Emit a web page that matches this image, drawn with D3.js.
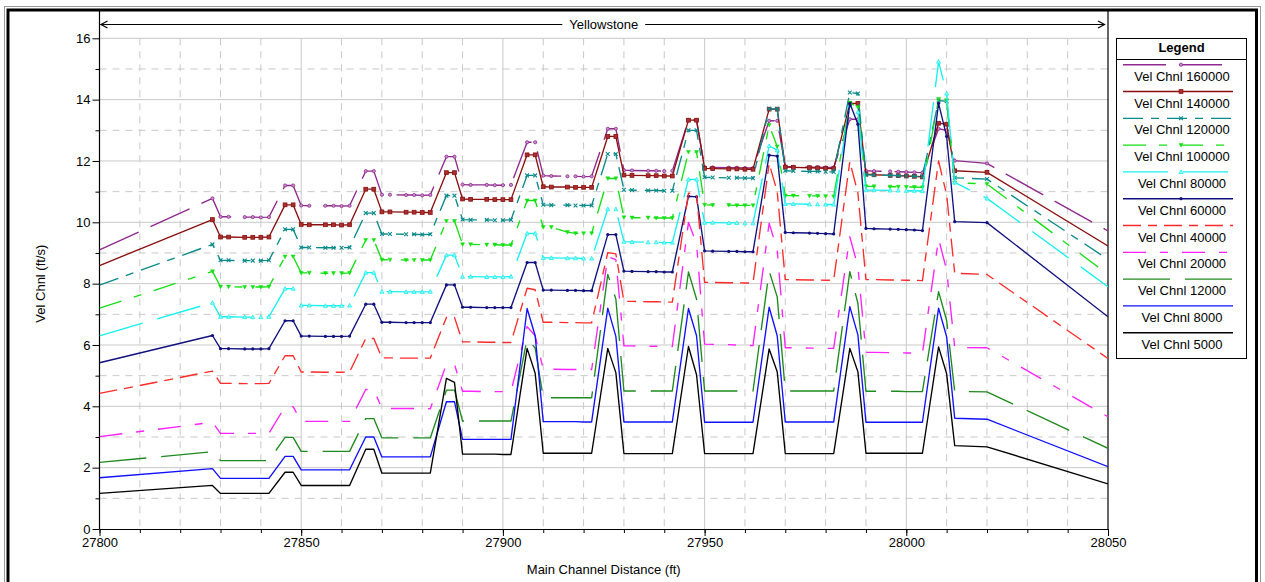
<!DOCTYPE html>
<html>
<head>
<meta charset="utf-8">
<script src="https://cdn.jsdelivr.net/npm/d3@7"></script>
<style>
html, body { margin: 0; padding: 0; background: #fff; }
svg { display: block; font-family: "Liberation Sans", Arial, sans-serif; }
</style>
</head>
<body>
<svg id="chart" width="1265" height="582"></svg>
<script>
// Cross-section stations along the main channel (ft)
const stations = [
  27800, 27828,
  27830, 27832, 27836, 27838, 27840, 27842, 27846, 27848,
  27850, 27852, 27856, 27858, 27860, 27862, 27866, 27868,
  27870, 27872, 27876, 27878, 27880, 27882, 27886, 27888,
  27890, 27892, 27896, 27898, 27900, 27902, 27906, 27908,
  27910, 27912, 27916, 27918, 27920, 27922, 27926, 27928,
  27930, 27932, 27936, 27938, 27940, 27942, 27946, 27948,
  27950, 27952, 27956, 27958, 27960, 27962, 27966, 27968,
  27970, 27972, 27976, 27978, 27980, 27982, 27986, 27988,
  27990, 27992, 27996, 27998, 28000, 28002, 28004, 28008, 28010,
  28012, 28020, 28050
];

// Channel velocity (ft/s) for each profile flow
const vel160000 = [
  9.10, 10.78,
  10.18, 10.18, 10.17, 10.17, 10.16, 10.17, 11.20, 11.20,
  10.55, 10.54, 10.54, 10.54, 10.53, 10.54, 11.67, 11.67,
  10.90, 10.90, 10.89, 10.89, 10.88, 10.89, 12.14, 12.14,
  11.23, 11.22, 11.22, 11.21, 11.21, 11.22, 12.61, 12.61,
  11.52, 11.51, 11.50, 11.50, 11.49, 11.50, 13.05, 13.05,
  11.70, 11.69, 11.68, 11.68, 11.67, 11.68, 13.33, 13.33,
  11.80, 11.79, 11.78, 11.78, 11.77, 11.77, 13.31, 13.31,
  11.82, 11.81, 11.80, 11.80, 11.79, 11.79, 13.36, 13.36,
  11.68, 11.67, 11.66, 11.65, 11.64, 11.63, 11.62, 13.05, 13.00,
  12.01, 11.92, 9.72
];
const vel140000 = [
  8.59, 10.09,
  9.52, 9.52, 9.51, 9.51, 9.51, 9.52, 10.57, 10.57,
  9.93, 9.92, 9.92, 9.92, 9.91, 9.92, 11.08, 11.08,
  10.34, 10.34, 10.33, 10.33, 10.32, 10.32, 11.62, 11.62,
  10.76, 10.75, 10.75, 10.74, 10.74, 10.74, 12.20, 12.20,
  11.16, 11.15, 11.15, 11.14, 11.14, 11.14, 12.80, 12.80,
  11.54, 11.53, 11.52, 11.52, 11.51, 11.51, 13.33, 13.33,
  11.76, 11.75, 11.74, 11.74, 11.73, 11.73, 13.69, 13.69,
  11.80, 11.79, 11.78, 11.77, 11.76, 11.75, 13.88, 13.88,
  11.57, 11.55, 11.53, 11.52, 11.51, 11.50, 11.48, 13.23, 13.20,
  11.68, 11.63, 9.23
];
const vel120000 = [
  7.95, 9.28,
  8.76, 8.76, 8.75, 8.75, 8.75, 8.76, 9.77, 9.77,
  9.18, 9.18, 9.17, 9.17, 9.17, 9.18, 10.30, 10.30,
  9.62, 9.62, 9.61, 9.61, 9.60, 9.61, 10.87, 10.87,
  10.09, 10.08, 10.08, 10.07, 10.07, 10.08, 11.53, 11.53,
  10.57, 10.56, 10.56, 10.55, 10.55, 10.55, 12.23, 12.23,
  11.06, 11.05, 11.04, 11.04, 11.03, 11.03, 13.00, 13.00,
  11.47, 11.46, 11.45, 11.45, 11.44, 11.44, 13.70, 13.70,
  11.68, 11.67, 11.66, 11.66, 11.65, 11.64, 14.23, 14.20,
  11.55, 11.54, 11.53, 11.52, 11.51, 11.50, 11.49, 13.97, 13.95,
  11.45, 11.41, 8.79
];
const vel100000 = [
  7.20, 8.40,
  7.90, 7.90, 7.89, 7.89, 7.89, 7.90, 8.88, 8.88,
  8.35, 8.35, 8.34, 8.34, 8.34, 8.35, 9.42, 9.42,
  8.78, 8.78, 8.77, 8.77, 8.77, 8.77, 10.04, 10.04,
  9.28, 9.28, 9.27, 9.27, 9.26, 9.26, 10.71, 10.71,
  9.84, 9.84, 9.68, 9.64, 9.64, 9.64, 11.43, 11.43,
  10.16, 10.15, 10.15, 10.14, 10.14, 10.14, 12.29, 12.29,
  10.57, 10.56, 10.56, 10.55, 10.55, 10.55, 13.17, 12.47,
  10.87, 10.87, 10.86, 10.86, 10.85, 10.84, 13.90, 13.75,
  11.17, 11.17, 11.16, 11.16, 11.15, 11.15, 11.14, 14.02, 13.98,
  11.29, 11.25, 8.30
];
const vel80000 = [
  6.30, 7.38,
  6.92, 6.92, 6.91, 6.91, 6.91, 6.92, 7.84, 7.84,
  7.29, 7.29, 7.28, 7.28, 7.28, 7.29, 8.36, 8.36,
  7.74, 7.74, 7.73, 7.73, 7.73, 7.74, 8.93, 8.93,
  8.23, 8.23, 8.22, 8.22, 8.22, 8.23, 9.64, 9.64,
  8.84, 8.84, 8.83, 8.83, 8.82, 8.82, 10.43, 10.43,
  9.37, 9.36, 9.35, 9.35, 9.34, 9.34, 11.40, 11.40,
  9.99, 9.99, 9.98, 9.98, 9.97, 9.97, 12.49, 12.35,
  10.60, 10.60, 10.59, 10.59, 10.58, 10.58, 13.80, 13.60,
  11.05, 11.05, 11.04, 11.04, 11.03, 11.03, 11.02, 15.24, 14.20,
  11.30, 10.78, 7.90
];
const vel60000 = [
  5.42, 6.31,
  5.88, 5.88, 5.87, 5.87, 5.87, 5.88, 6.79, 6.79,
  6.29, 6.29, 6.28, 6.28, 6.28, 6.29, 7.33, 7.33,
  6.74, 6.74, 6.73, 6.73, 6.73, 6.73, 7.96, 7.96,
  7.23, 7.23, 7.22, 7.22, 7.22, 7.22, 8.69, 8.69,
  7.79, 7.79, 7.78, 7.78, 7.77, 7.77, 9.60, 9.60,
  8.41, 8.40, 8.39, 8.39, 8.38, 8.38, 10.85, 10.83,
  9.07, 9.06, 9.05, 9.05, 9.04, 9.04, 12.19, 12.16,
  9.67, 9.66, 9.65, 9.64, 9.63, 9.62, 13.88, 13.20,
  9.80, 9.79, 9.78, 9.77, 9.76, 9.75, 9.73, 13.88, 12.80,
  10.02, 9.99, 6.92
];
const vel40000 = [
  4.42, 5.15,
  4.75, 4.75, 4.74, 4.74, 4.74, 4.75, 5.65, 5.65,
  5.12, 5.12, 5.11, 5.11, 5.11, 5.12, 6.21, 6.21,
  5.58, 5.58, 5.57, 5.57, 5.57, 5.57, 6.90, 6.90,
  6.10, 6.10, 6.09, 6.09, 6.08, 6.08, 7.85, 7.80,
  6.74, 6.74, 6.73, 6.73, 6.72, 6.72, 9.01, 8.97,
  7.42, 7.42, 7.41, 7.41, 7.40, 7.40, 10.95, 10.90,
  8.04, 8.04, 8.03, 8.03, 8.02, 8.02, 11.92, 11.00,
  8.13, 8.13, 8.12, 8.12, 8.11, 8.11, 11.98, 10.95,
  8.13, 8.13, 8.12, 8.12, 8.11, 8.11, 8.10, 12.00, 10.90,
  8.34, 8.30, 5.56
];
const vel20000 = [
  3.01, 3.48,
  3.12, 3.12, 3.12, 3.12, 3.12, 3.12, 3.99, 3.99,
  3.51, 3.51, 3.51, 3.51, 3.51, 3.51, 4.55, 4.55,
  3.93, 3.93, 3.93, 3.93, 3.92, 3.92, 5.37, 5.37,
  4.49, 4.49, 4.48, 4.48, 4.48, 4.48, 6.60, 6.30,
  5.21, 5.21, 5.20, 5.20, 5.20, 5.20, 8.88, 8.78,
  5.97, 5.97, 5.96, 5.96, 5.95, 5.95, 10.00, 9.30,
  6.03, 6.02, 6.01, 6.00, 5.99, 5.98, 9.97, 9.10,
  5.91, 5.91, 5.90, 5.90, 5.89, 5.89, 9.53, 8.56,
  5.76, 5.76, 5.75, 5.75, 5.74, 5.74, 5.73, 9.47, 8.44,
  5.92, 5.91, 3.66
];
const vel12000 = [
  2.17, 2.52,
  2.23, 2.23, 2.23, 2.23, 2.23, 2.23, 2.99, 2.99,
  2.53, 2.53, 2.53, 2.53, 2.53, 2.53, 3.60, 3.60,
  2.97, 2.97, 2.97, 2.97, 2.97, 2.97, 4.53, 4.53,
  3.52, 3.52, 3.52, 3.52, 3.52, 3.52, 6.20, 5.90,
  4.28, 4.28, 4.28, 4.28, 4.28, 4.28, 8.30, 7.50,
  4.50, 4.50, 4.50, 4.50, 4.50, 4.50, 8.38, 7.50,
  4.50, 4.50, 4.50, 4.50, 4.50, 4.50, 8.41, 7.57,
  4.50, 4.50, 4.50, 4.50, 4.50, 4.50, 8.39, 7.36,
  4.49, 4.49, 4.49, 4.49, 4.48, 4.48, 4.48, 7.74, 6.80,
  4.49, 4.47, 2.63
];
const vel8000 = [
  1.67, 1.97,
  1.65, 1.65, 1.65, 1.65, 1.65, 1.65, 2.37, 2.37,
  1.93, 1.93, 1.93, 1.93, 1.93, 1.93, 3.00, 3.00,
  2.35, 2.35, 2.35, 2.35, 2.35, 2.35, 4.15, 4.15,
  2.92, 2.92, 2.92, 2.92, 2.92, 2.92, 7.19, 6.30,
  3.50, 3.50, 3.50, 3.50, 3.49, 3.49, 7.20, 6.28,
  3.49, 3.49, 3.49, 3.49, 3.49, 3.49, 7.19, 6.30,
  3.48, 3.48, 3.48, 3.48, 3.48, 3.48, 7.23, 6.30,
  3.49, 3.49, 3.49, 3.49, 3.49, 3.49, 7.25, 6.33,
  3.48, 3.48, 3.48, 3.48, 3.48, 3.48, 3.48, 7.20, 6.27,
  3.61, 3.58, 2.03
];
const vel5000 = [
  1.16, 1.42,
  1.16, 1.16, 1.16, 1.16, 1.16, 1.16, 1.85, 1.85,
  1.42, 1.42, 1.42, 1.42, 1.42, 1.42, 2.60, 2.60,
  1.82, 1.82, 1.82, 1.82, 1.82, 1.82, 4.91, 4.78,
  2.44, 2.44, 2.44, 2.44, 2.43, 2.43, 5.89, 5.08,
  2.47, 2.47, 2.47, 2.47, 2.47, 2.47, 5.89, 5.10,
  2.46, 2.46, 2.46, 2.46, 2.46, 2.46, 5.95, 5.03,
  2.46, 2.46, 2.46, 2.46, 2.46, 2.46, 5.87, 5.13,
  2.46, 2.46, 2.46, 2.46, 2.46, 2.46, 5.89, 5.13,
  2.47, 2.47, 2.47, 2.47, 2.47, 2.47, 2.47, 5.94, 5.06,
  2.72, 2.68, 1.47
];

const seriesNames = [
  "Vel Chnl 160000", "Vel Chnl 140000", "Vel Chnl 120000", "Vel Chnl 100000",
  "Vel Chnl 80000", "Vel Chnl 60000", "Vel Chnl 40000", "Vel Chnl 20000",
  "Vel Chnl 12000", "Vel Chnl 8000", "Vel Chnl 5000"
];
const seriesValues = [
  vel160000, vel140000, vel120000, vel100000, vel80000, vel60000,
  vel40000, vel20000, vel12000, vel8000, vel5000
];

const reachName = "Yellowstone";
const xTitle = "Main Channel Distance (ft)";
const yTitle = "Vel Chnl (ft/s)";
const legendTitle = "Legend";
const xMajorTicks = [27800, 27850, 27900, 27950, 28000, 28050];
const yMajorTicks = [0, 2, 4, 6, 8, 10, 12, 14, 16];

// Line styles per profile
const seriesColors = ["#8e2a8e", "#8b0f0f", "#0a8a8a", "#14e014", "#16f0f0", "#10107e",
                      "#ff2a2a", "#ff22ff", "#1f8a1f", "#1010ff", "#000000"];
const seriesDashes = ["43,13", null, "20,8,8,8", "23,13,8,13", "45,15", null,
                      "18,7,9,7", "23,14,8,14", "47,15", null, null];
const seriesMarkers = ["circle", "square", "x", "tridown", "triup", "dot",
                       null, null, null, null, null];

const W = 1265, H = 582;
const plot = { left: 99.5, right: 1108, top: 38.3, bottom: 529 };

const x = d3.scaleLinear().domain([27800, 28050]).range([plot.left, plot.right]);
const y = d3.scaleLinear().domain([0, 16]).range([plot.bottom, plot.top]);

const svg = d3.select("#chart");
svg.append("rect").attr("width", W).attr("height", H).attr("fill", "#fff");

// Outer frame
svg.append("rect").attr("x", 4.5).attr("y", 6.5).attr("width", 1256).attr("height", 620)
  .attr("fill", "none").attr("stroke", "#9a9a9a").attr("stroke-width", 1);
svg.append("rect").attr("x", 8).attr("y", 10).attr("width", 1248.5).attr("height", 620)
  .attr("fill", "none").attr("stroke", "#000").attr("stroke-width", 3);

// Grid
const grid = svg.append("g");
const gridColor = "#c9c9c9";
d3.range(27810, 28050, 10).forEach(v => {
  const major = xMajorTicks.includes(v);
  grid.append("line")
    .attr("x1", x(v)).attr("x2", x(v)).attr("y1", y(16)).attr("y2", y(0))
    .attr("stroke", gridColor).attr("stroke-width", 1)
    .attr("stroke-dasharray", major ? null : "7,6");
});
d3.range(1, 17, 1).forEach(v => {
  const major = v % 2 === 0;
  grid.append("line")
    .attr("x1", plot.left).attr("x2", plot.right).attr("y1", y(v)).attr("y2", y(v))
    .attr("stroke", gridColor).attr("stroke-width", 1)
    .attr("stroke-dasharray", major ? null : "7,6");
});

// Axes
const tickFont = 13;
const xMinor = svg.append("g").attr("transform", `translate(0,${plot.bottom})`)
  .call(d3.axisBottom(x).tickValues(d3.range(27800, 28051, 10)).tickSize(4).tickFormat(""));
xMinor.select(".domain").remove();
const xMajor = svg.append("g").attr("transform", `translate(0,${plot.bottom})`)
  .call(d3.axisBottom(x).tickValues(xMajorTicks).tickSize(7).tickSizeOuter(0).tickPadding(2).tickFormat(d3.format("d")));
xMajor.selectAll("text").attr("font-size", tickFont).attr("font-family", "Liberation Sans, Arial, sans-serif").attr("fill", "#000");
xMajor.select(".domain").attr("stroke", "#000");

const yMinor = svg.append("g").attr("transform", `translate(${plot.left},0)`)
  .call(d3.axisLeft(y).tickValues(d3.range(1, 16, 2)).tickSize(4).tickFormat(""));
yMinor.select(".domain").remove();
const yMajor = svg.append("g").attr("transform", `translate(${plot.left},0)`)
  .call(d3.axisLeft(y).tickValues(yMajorTicks).tickSize(7).tickSizeOuter(0).tickPadding(2).tickFormat(d3.format("d")));
yMajor.selectAll("text").attr("font-size", tickFont).attr("font-family", "Liberation Sans, Arial, sans-serif").attr("fill", "#000");
yMajor.select(".domain").remove();
svg.selectAll(".tick line").attr("stroke", "#000");

// Plot side borders reaching the title band
svg.append("line").attr("x1", plot.left).attr("x2", plot.left).attr("y1", 10).attr("y2", plot.bottom)
  .attr("stroke", "#000").attr("stroke-width", 1.2);
svg.append("line").attr("x1", plot.right).attr("x2", plot.right).attr("y1", 10).attr("y2", plot.bottom)
  .attr("stroke", "#000").attr("stroke-width", 1.2);

// Reach arrow with name
const arrowY = 24.5;
const arrow = svg.append("g");
arrow.append("line").attr("x1", plot.left + 1).attr("x2", plot.right - 3).attr("y1", arrowY).attr("y2", arrowY)
  .attr("stroke", "#000").attr("stroke-width", 1);
arrow.append("path").attr("d", `M${plot.left + 8},${arrowY - 3.5}L${plot.left + 1.5},${arrowY}L${plot.left + 8},${arrowY + 3.5}`)
  .attr("fill", "none").attr("stroke", "#000").attr("stroke-width", 1.2);
arrow.append("path").attr("d", `M${plot.right - 10},${arrowY - 3.5}L${plot.right - 3.5},${arrowY}L${plot.right - 10},${arrowY + 3.5}`)
  .attr("fill", "none").attr("stroke", "#000").attr("stroke-width", 1.2);
const midX = (plot.left + plot.right) / 2;
const reachText = arrow.append("text").attr("x", midX).attr("y", arrowY + 4.5)
  .attr("text-anchor", "middle").attr("font-size", 13).text(reachName);
const rb = reachText.node().getBBox();
arrow.insert("rect", "text").attr("x", rb.x - 7).attr("y", arrowY - 3).attr("width", rb.width + 14).attr("height", 6)
  .attr("fill", "#fff");

// Axis titles
svg.append("text").attr("transform", `translate(45,${(plot.top + plot.bottom) / 2}) rotate(-90)`)
  .attr("text-anchor", "middle").attr("font-size", 13).text(yTitle);
svg.append("text").attr("x", midX).attr("y", 574)
  .attr("text-anchor", "middle").attr("font-size", 13).text(xTitle);

// Series
svg.append("clipPath").attr("id", "plotClip").append("rect")
  .attr("x", plot.left).attr("y", plot.top - 20).attr("width", plot.right - plot.left).attr("height", plot.bottom - plot.top + 20);

const line = d3.line().x(d => x(d[0])).y(d => y(d[1]));

function drawMarker(g, kind, cx, cy, color) {
  if (!kind) return;
  if (kind === "circle") {
    g.append("circle").attr("cx", cx).attr("cy", cy).attr("r", 1.6)
      .attr("fill", "#c890c8").attr("stroke", color).attr("stroke-width", 0.8);
  } else if (kind === "square") {
    g.append("rect").attr("x", cx - 1.9).attr("y", cy - 1.9).attr("width", 3.8).attr("height", 3.8)
      .attr("fill", "#a83030").attr("stroke", color).attr("stroke-width", 0.8);
  } else if (kind === "x") {
    g.append("path").attr("transform", `translate(${cx},${cy})`)
      .attr("d", d3.symbol(d3.symbolX, 11)())
      .attr("fill", "none").attr("stroke", color).attr("stroke-width", 1.1);
  } else if (kind === "tridown") {
    g.append("path").attr("d", `M${cx - 2},${cy - 1.6}L${cx + 2},${cy - 1.6}L${cx},${cy + 2}Z`)
      .attr("fill", color).attr("stroke", color).attr("stroke-width", 0.5);
  } else if (kind === "triup") {
    g.append("path").attr("d", `M${cx - 2},${cy + 1.6}L${cx + 2},${cy + 1.6}L${cx},${cy - 2}Z`)
      .attr("fill", "#9ff8f8").attr("stroke", color).attr("stroke-width", 0.8);
  } else if (kind === "dot") {
    g.append("circle").attr("cx", cx).attr("cy", cy).attr("r", 1.6)
      .attr("fill", color).attr("stroke", "none");
  }
}

const seriesLayer = svg.append("g").attr("clip-path", "url(#plotClip)");
seriesNames.forEach((name, i) => {
  const pts = stations.map((s, j) => [s, seriesValues[i][j]]);
  const g = seriesLayer.append("g").attr("class", "series");
  g.append("path").datum(pts).attr("d", line)
    .attr("fill", "none").attr("stroke", seriesColors[i]).attr("stroke-width", 1.35)
    .attr("stroke-linejoin", "round")
    .attr("stroke-dasharray", seriesDashes[i]);
  if (seriesMarkers[i]) {
    pts.forEach((p, j) => {
      if (j === 0 || j === pts.length - 1) return;
      drawMarker(g, seriesMarkers[i], x(p[0]), y(p[1]), seriesColors[i]);
    });
  }
});

// Legend
const lg = svg.append("g");
const lgX = 1116.5, lgY = 38.5, lgW = 130, lgH = 320;
lg.append("rect").attr("x", lgX).attr("y", lgY).attr("width", lgW).attr("height", lgH)
  .attr("fill", "#fff").attr("stroke", "#000").attr("stroke-width", 1);
lg.append("line").attr("x1", lgX).attr("x2", lgX + lgW).attr("y1", 59.5).attr("y2", 59.5)
  .attr("stroke", "#000").attr("stroke-width", 1);
lg.append("text").attr("x", lgX + lgW / 2).attr("y", 52).attr("text-anchor", "middle")
  .attr("font-size", 13).attr("font-weight", "bold").text(legendTitle);
seriesNames.forEach((name, i) => {
  const ly = 64.7 + i * 26.8;
  lg.append("line").attr("x1", 1123).attr("x2", 1233).attr("y1", ly).attr("y2", ly)
    .attr("stroke", seriesColors[i]).attr("stroke-width", 1.35)
    .attr("stroke-dasharray", seriesDashes[i]);
  drawMarker(lg, seriesMarkers[i], 1181, ly, seriesColors[i]);
  lg.append("text").attr("x", 1182).attr("y", ly + 16).attr("text-anchor", "middle")
    .attr("font-size", 13).text(name);
});
</script>
</body>
</html>
